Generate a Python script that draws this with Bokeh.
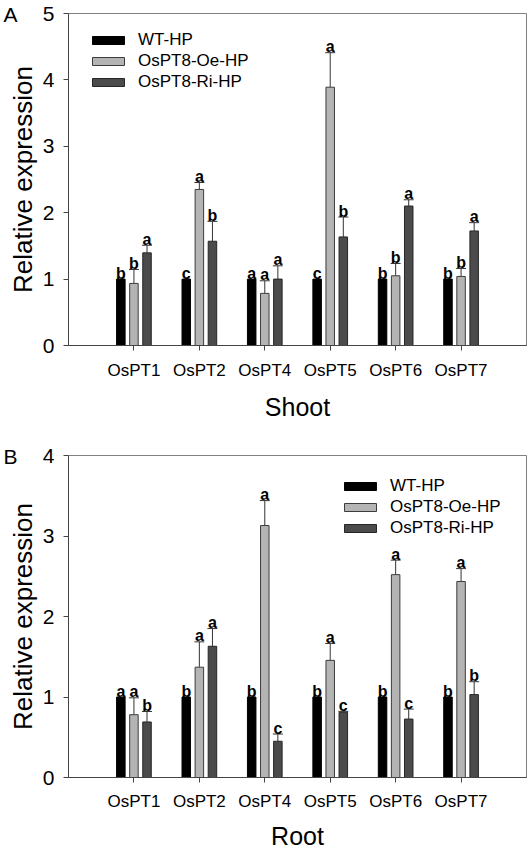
import numpy as np
from bokeh.plotting import figure
from bokeh.models import (ColumnDataSource, FixedTicker, Legend, LegendItem,
                          Whisker, TeeHead, Title, Range1d)
from bokeh.layouts import column
from bokeh.embed import file_html
from bokeh.resources import INLINE
from bokeh.core.properties import value

# ---------------- data ----------------
genes = ["OsPT1", "OsPT2", "OsPT4", "OsPT5", "OsPT6", "OsPT7"]
series = ["WT-HP", "OsPT8-Oe-HP", "OsPT8-Ri-HP"]

shoot_wt = [1.0, 1.0, 1.0, 1.0, 1.0, 1.0]
shoot_wt_err = [0.0, 0.0, 0.0, 0.0, 0.0, 0.0]
shoot_oe = [0.935, 2.35, 0.785, 3.89, 1.05, 1.04]
shoot_oe_err = [0.21, 0.105, 0.19, 0.52, 0.185, 0.12]
shoot_ri = [1.395, 1.57, 1.0, 1.635, 2.1, 1.725]
shoot_ri_err = [0.115, 0.30, 0.20, 0.30, 0.095, 0.125]
shoot_letters_wt = ["b", "c", "a", "c", "b", "b"]
shoot_letters_oe = ["b", "a", "a", "a", "b", "b"]
shoot_letters_ri = ["a", "b", "a", "b", "a", "a"]

root_wt = [1.0, 1.0, 1.0, 1.0, 1.0, 1.0]
root_wt_err = [0.0, 0.0, 0.0, 0.0, 0.0, 0.0]
root_oe = [0.78, 1.37, 3.13, 1.455, 2.52, 2.435]
root_oe_err = [0.21, 0.315, 0.31, 0.21, 0.18, 0.16]
root_ri = [0.69, 1.63, 0.45, 0.81, 0.726, 1.03]
root_ri_err = [0.13, 0.22, 0.09, 0.012, 0.124, 0.16]
root_letters_wt = ["a", "b", "b", "b", "b", "b"]
root_letters_oe = ["a", "a", "a", "a", "a", "a"]
root_letters_ri = ["b", "a", "c", "c", "c", "b"]

y_title = "Relative expression"

# ---------------- style ----------------
FONT = "Liberation Sans"
FILLS = ["#000000", "#b4b4b4", "#4b4b4b"]
LINES = ["#000000", "#3c3c3c", "#262626"]
OFFSETS = [-0.2, 0.0, 0.2]
BAR_W = 0.13
ERR_COLOR = "#333333"
LEG_ITEM_H = 21
LEG_SPACING = 1
B_LEFT = 68
B_RIGHT = 4
WIDTH = 530


def make_panel(tag, xlabel, ymax, means, errs, letters, height, b_top, b_bottom,
               legend_xy, tick_standoff, title_standoff, tag_standoff):
    frame_h = height - b_top - b_bottom
    p = figure(width=WIDTH, height=height,
               x_range=Range1d(-1, 6), y_range=Range1d(0, ymax),
               output_backend="svg", toolbar_location=None,
               min_border_left=B_LEFT, min_border_right=B_RIGHT,
               min_border_top=b_top, min_border_bottom=b_bottom)
    pos = np.arange(len(genes))
    items = []
    for k in range(3):
        xs = pos + OFFSETS[k]
        m = np.array(means[k])
        e = np.array(errs[k])
        src = ColumnDataSource(dict(x=xs, top=m, upper=m + e, letter=letters[k]))
        r = p.vbar(x="x", top="top", width=BAR_W, bottom=0, source=src,
                   fill_color=FILLS[k], line_color=LINES[k], line_width=1)
        items.append(LegendItem(label=series[k], renderers=[r]))
        if k > 0:
            w = Whisker(base="x", lower="top", upper="upper", source=src,
                        dimension="height", line_color=ERR_COLOR, line_width=1,
                        upper_head=TeeHead(size=10, line_color=ERR_COLOR, line_width=1),
                        lower_head=None)
            p.add_layout(w)
        p.text(x="x", y="upper", text="letter", source=src,
               text_align="center", text_baseline="alphabetic", y_offset=-6,
               text_font=value(FONT), text_font_style="bold",
               text_font_size="16px", text_color="#000000")

    leg_h = 3 * LEG_ITEM_H + 2 * LEG_SPACING
    legend = Legend(items=items, location=(legend_xy[0], frame_h - legend_xy[1] - leg_h),
                    glyph_width=40, glyph_height=10, label_height=10,
                    spacing=LEG_SPACING, label_standoff=10, padding=0, margin=0,
                    border_line_alpha=0, background_fill_alpha=0,
                    label_text_font=FONT, label_text_font_size="17px",
                    label_text_color="#000000")
    p.add_layout(legend)

    # panel tag (A / B) at the top-left corner
    p.title = Title(text=tag, align="left", offset=3 - B_LEFT, standoff=tag_standoff,
                    vertical_align="bottom", text_font=FONT,
                    text_font_size="21px", text_font_style="normal",
                    text_color="#000000")

    p.grid.visible = False
    p.outline_line_color = "#808080"
    p.outline_line_width = 1

    p.xaxis.ticker = FixedTicker(ticks=list(range(len(genes))))
    p.xaxis.major_label_overrides = {i: g for i, g in enumerate(genes)}
    p.yaxis.ticker = FixedTicker(ticks=list(range(ymax + 1)))
    p.axis.minor_tick_line_color = None
    p.axis.major_tick_in = 0
    p.axis.major_tick_out = 5
    p.axis.axis_line_color = "#444444"
    p.axis.major_tick_line_color = "#444444"
    p.axis.major_label_text_font = FONT
    p.axis.major_label_text_color = "#000000"
    p.axis.axis_label_text_font = FONT
    p.axis.axis_label_text_font_style = "normal"
    p.axis.axis_label_text_color = "#000000"

    p.xaxis.major_label_text_font_size = "17px"
    p.xaxis.major_label_standoff = tick_standoff
    p.xaxis.axis_label = xlabel
    p.xaxis.axis_label_text_font_size = "25px"
    p.xaxis.axis_label_standoff = title_standoff

    p.yaxis.major_label_text_font_size = "21px"
    p.yaxis.major_label_standoff = 9
    p.yaxis.axis_label = y_title
    p.yaxis.axis_label_text_font_size = "26px"
    p.yaxis.axis_label_standoff = 2
    return p


pA = make_panel("A", "Shoot", 5,
                [shoot_wt, shoot_oe, shoot_ri],
                [shoot_wt_err, shoot_oe_err, shoot_ri_err],
                [shoot_letters_wt, shoot_letters_oe, shoot_letters_ri],
                height=425, b_top=13, b_bottom=80, legend_xy=(20, 14),
                tick_standoff=10, title_standoff=10, tag_standoff=-24)
pB = make_panel("B", "Root", 4,
                [root_wt, root_oe, root_ri],
                [root_wt_err, root_oe_err, root_ri_err],
                [root_letters_wt, root_letters_oe, root_letters_ri],
                height=430, b_top=30, b_bottom=78, legend_xy=(272, 18),
                tick_standoff=9, title_standoff=8, tag_standoff=-25)

layout = column(pA, pB)
open("out.html", "w").write(file_html(layout, INLINE))
